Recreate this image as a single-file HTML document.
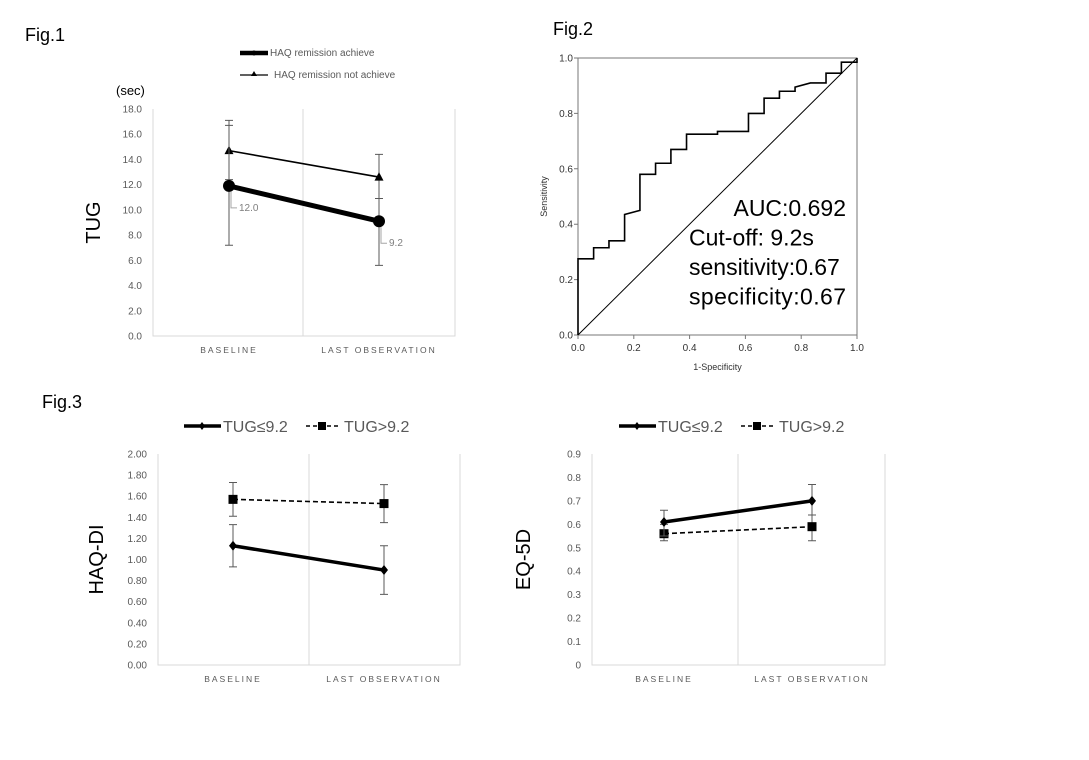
<!DOCTYPE html>
<html><head><meta charset="utf-8">
<style>
body{margin:0;background:#fff;}
svg{display:block;font-family:"Liberation Sans",sans-serif;}
</style></head>
<body>
<svg id="svg" width="1089" height="760" viewBox="0 0 1089 760">
<rect width="1089" height="760" fill="#fff"/>
<text x="25" y="41" font-size="18" fill="#000">Fig.1</text>
<text x="553" y="35" font-size="18" fill="#000">Fig.2</text>
<text x="42" y="408" font-size="18" fill="#000">Fig.3</text>
</svg>
<script>
// ---------- data ----------
const categories = ["BASELINE", "LAST OBSERVATION"];
// Fig.1 TUG
const tugTicks = ["0.0","2.0","4.0","6.0","8.0","10.0","12.0","14.0","16.0","18.0"];
const tugAchieve = [11.9, 9.1];
const tugAchieveLo = [7.2, 5.6];
const tugAchieveHi = [16.7, 10.9];
const tugAchieveLabels = ["12.0", "9.2"];
const tugNot = [14.7, 12.6];
const tugNotLo = [12.4, 10.9];
const tugNotHi = [17.1, 14.4];
// Fig.2 ROC
const rocFpr = [0,0,0.056,0.056,0.111,0.111,0.167,0.167,0.222,0.222,0.278,0.278,0.333,0.333,0.389,0.389,0.5,0.5,0.611,0.611,0.667,0.667,0.722,0.722,0.778,0.778,0.833,0.889,0.889,0.944,0.944,1,1];
const rocTpr = [0,0.275,0.275,0.315,0.315,0.34,0.34,0.435,0.45,0.58,0.58,0.62,0.62,0.67,0.67,0.725,0.725,0.735,0.735,0.80,0.80,0.855,0.855,0.88,0.88,0.895,0.91,0.91,0.945,0.945,0.985,0.985,1];
const rocTicks = ["0.0","0.2","0.4","0.6","0.8","1.0"];
// Fig.3 HAQ-DI
const haqTicks = ["0.00","0.20","0.40","0.60","0.80","1.00","1.20","1.40","1.60","1.80","2.00"];
const haqLow = [1.13, 0.90], haqLowLo = [0.93, 0.67], haqLowHi = [1.33, 1.13];
const haqHigh = [1.57, 1.53], haqHighLo = [1.41, 1.35], haqHighHi = [1.73, 1.71];
// Fig.3 EQ-5D
const eqTicks = ["0","0.1","0.2","0.3","0.4","0.5","0.6","0.7","0.8","0.9"];
const eqLow = [0.61, 0.70], eqLowLo = [0.55, 0.64], eqLowHi = [0.66, 0.77];
const eqHigh = [0.56, 0.59], eqHighLo = [0.53, 0.53], eqHighHi = [0.60, 0.64];

const NS = "http://www.w3.org/2000/svg";
const svg = document.getElementById("svg");
function mk(tag, attrs, parent, text){
  const e = document.createElementNS(NS, tag);
  for (const k in attrs) e.setAttribute(k, attrs[k]);
  if (text !== undefined) e.textContent = text;
  (parent || svg).appendChild(e);
  return e;
}

function excelChart(o){
  const g = mk("g", {});
  
  
  const ymax = parseFloat(o.ticks[o.ticks.length-1]);
  const y = v => o.bottom - (v / ymax) * (o.bottom - o.top);
  const x = i => o.cx[i];
  const fr = mk("path", {d:`M${o.left} ${o.top}V${o.bottom}H${o.right}V${o.top}M${o.mid} ${o.top}V${o.bottom}`, stroke:"#d9d9d9", fill:"none", "stroke-width":1}, g);
  
  
  o.ticks.forEach(t => {
    const e = mk("text", {x:o.left-11, y:y(parseFloat(t))+3.5, "font-size":10, fill:"#595959", "text-anchor":"end"}, g, t);
    
    
  });
  categories.forEach((c,i) => {
    const e = mk("text", {x:x(i), y:o.bottom+17, "font-size":8.5, fill:"#595959", "text-anchor":"middle", "letter-spacing":"2"}, g, c);
    
    
  });
  const yt = mk("text", {x:0, y:0, "font-size":o.ytSize, fill:"#000", "text-anchor":"middle", transform:`translate(${o.ytX},${(o.top+o.bottom)/2}) rotate(-90)`}, g, o.ytitle);
  
  
  o.series.forEach(s => {
    const sg = mk("g", {}, g);
    
    
    s.vals.forEach((v,i) => {
      const eb = mk("path", {d:`M${x(i)} ${y(s.lo[i])}V${y(s.hi[i])}M${x(i)-4} ${y(s.lo[i])}h8M${x(i)-4} ${y(s.hi[i])}h8`, stroke:"#595959", "stroke-width":1, fill:"none"}, sg);
      
      
    });
    const ln = mk("line", {x1:x(0), y1:y(s.vals[0]), x2:x(1), y2:y(s.vals[1]), stroke:"#000", "stroke-width":s.w, "stroke-dasharray":s.dash||"none"}, sg);
    
    
    s.vals.forEach((v,i) => {
      const cx = x(i), cy = y(v); let m;
      if (s.marker==="circle") m = mk("circle", {cx, cy, r:6, fill:"#000"}, sg);
      else if (s.marker==="tri") m = mk("path", {d:`M${cx} ${cy-5}L${cx+4.5} ${cy+3.5}H${cx-4.5}Z`, fill:"#000"}, sg);
      else if (s.marker==="square") m = mk("rect", {x:cx-4.5, y:cy-4.5, width:9, height:9, fill:"#000"}, sg);
      else m = mk("path", {d:`M${cx} ${cy-5}L${cx+4} ${cy}L${cx} ${cy+5}L${cx-4} ${cy}Z`, fill:"#000"}, sg);
      
      
      if (s.labels){
        const lp = mk("path", {d:`M${cx+2} ${cy+6}v16h6`, stroke:"#a6a6a6", fill:"none"}, sg);
        
        
        const lt = mk("text", {x:cx+10, y:cy+25, "font-size":10, fill:"#7f7f7f"}, sg, s.labels[i]);
        
        
      }
    });
  });
  return {x, y};
}

// Fig.1
excelChart({name:"tug-chart", left:153, right:455, top:109, bottom:336, mid:303, cx:[229,379], ticks:tugTicks, ytitle:"TUG", ytSize:20, ytX:100,
  series:[
    {name:"series-not-achieve", vals:tugNot, lo:tugNotLo, hi:tugNotHi, w:1.6, marker:"tri"},
    {name:"series-achieve", vals:tugAchieve, lo:tugAchieveLo, hi:tugAchieveHi, w:5, marker:"circle", labels:tugAchieveLabels}
  ]});
{
  const lg = mk("g", {});
  
  
  mk("line", {x1:240, y1:53, x2:268, y2:53, stroke:"#000", "stroke-width":4.5}, lg);
  mk("circle", {cx:254, cy:53, r:2.5, fill:"#000"}, lg);
  mk("text", {x:270, y:56, "font-size":10, fill:"#595959"}, lg, "HAQ remission achieve");
  mk("line", {x1:240, y1:75, x2:268, y2:75, stroke:"#000", "stroke-width":1.3}, lg);
  mk("path", {d:"M254 71L257 76H251Z", fill:"#000"}, lg);
  mk("text", {x:274, y:78, "font-size":10, fill:"#595959"}, lg, "HAQ remission not achieve");
  const u = mk("text", {x:116, y:95, "font-size":13, fill:"#000"}, null, "(sec)");
  
  
}

// Fig.2 ROC
{
  const g = mk("g", {});
  
  
  const L=578, R=857, T=58, B=335;
  const x = v => L + v*(R-L), y = v => B - v*(B-T);
  const f = mk("rect", {x:L, y:T, width:R-L, height:B-T, fill:"none", stroke:"#777", "stroke-width":1}, g);
  
  
  rocTicks.forEach(t => {
    const v = parseFloat(t);
    mk("path", {d:`M${L-4} ${y(v)}H${L}M${x(v)} ${B}V${B+4}`, stroke:"#777"}, g);
    const a = mk("text", {x:L-5, y:y(v)+3.5, "font-size":10, fill:"#333", "text-anchor":"end"}, g, t);
    
    
    const b = mk("text", {x:x(v), y:B+16, "font-size":10, fill:"#333", "text-anchor":"middle"}, g, t);
    
    
  });
  const d = mk("line", {x1:x(0), y1:y(0), x2:x(1), y2:y(1), stroke:"#000", "stroke-width":1}, g);
  
  
  const c = mk("polyline", {points: rocFpr.map((v,i)=>`${x(v)},${y(rocTpr[i])}`).join(" "), fill:"none", stroke:"#000", "stroke-width":1.6}, g);
  
  
  const xl = mk("text", {x:(L+R)/2, y:370, "font-size":9, fill:"#333", "text-anchor":"middle"}, g, "1-Specificity");
  
  
  const yl = mk("text", {x:0, y:0, "font-size":9, fill:"#333", "text-anchor":"middle", transform:`translate(547,${(T+B)/2}) rotate(-90)`}, g, "Sensitivity");
  
  
  ["AUC:0.692","Cut-off: 9.2s","sensitivity:0.67","specificity:0.67"].forEach((t,i)=>{
    const e = mk("text", {x: i===0?846:689, y:216+i*29.5, "font-size":23, fill:"#000", "text-anchor": i===0?"end":"start", textLength: i===3?157:undefined}, g, t);
    if (i!==3) e.removeAttribute("textLength");
    
    
  });
}

// Fig.3
function legend3(x0, name){
  const lg = mk("g", {});
  
  
  mk("line", {x1:x0, y1:426, x2:x0+37, y2:426, stroke:"#000", "stroke-width":3.5}, lg);
  mk("path", {d:`M${x0+18} 422L${x0+21} 426L${x0+18} 430L${x0+15} 426Z`, fill:"#000"}, lg);
  mk("text", {x:x0+39, y:432, "font-size":16, fill:"#595959"}, lg, "TUG≤9.2");
  mk("line", {x1:x0+122, y1:426, x2:x0+156, y2:426, stroke:"#000", "stroke-width":1.6, "stroke-dasharray":"4 3"}, lg);
  mk("rect", {x:x0+134, y:422, width:8, height:8, fill:"#000"}, lg);
  mk("text", {x:x0+160, y:432, "font-size":16, fill:"#595959"}, lg, "TUG>9.2");
}
legend3(184, "haq-legend");
legend3(619, "eq5d-legend");
excelChart({name:"haq-chart", left:158, right:460, top:454, bottom:665, mid:309, cx:[233,384], ticks:haqTicks, ytitle:"HAQ-DI", ytSize:20, ytX:103,
  series:[
    {name:"series-tug-high", vals:haqHigh, lo:haqHighLo, hi:haqHighHi, w:1.6, dash:"5 3", marker:"square"},
    {name:"series-tug-low", vals:haqLow, lo:haqLowLo, hi:haqLowHi, w:3.5, marker:"diamond"}
  ]});
excelChart({name:"eq5d-chart", left:592, right:885, top:454, bottom:665, mid:738, cx:[664,812], ticks:eqTicks, ytitle:"EQ-5D", ytSize:20, ytX:530,
  series:[
    {name:"series-tug-high", vals:eqHigh, lo:eqHighLo, hi:eqHighHi, w:1.6, dash:"5 3", marker:"square"},
    {name:"series-tug-low", vals:eqLow, lo:eqLowLo, hi:eqLowHi, w:3.5, marker:"diamond"}
  ]});
</script>
</body></html>
